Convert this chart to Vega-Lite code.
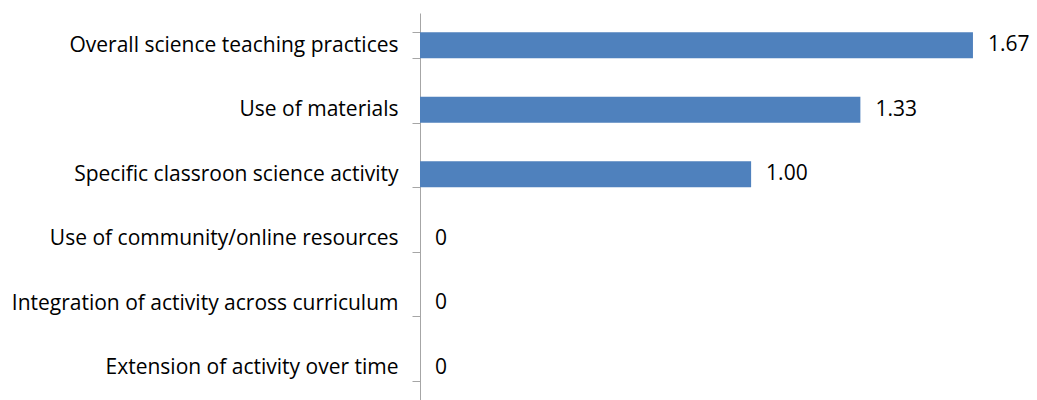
{
  "$schema": "https://vega.github.io/schema/vega-lite/v6.json",
  "autosize": "none",
  "width": 596,
  "height": 387,
  "padding": {"left": 420, "top": 13, "right": 21, "bottom": 0},
  "background": "white",
  "data": {
    "values": [
      {"category": "Overall science teaching practices", "value": 1.67, "label": "1.67"},
      {"category": "Use of materials", "value": 1.33, "label": "1.33"},
      {"category": "Specific classroon science activity", "value": 1.0, "label": "1.00"},
      {"category": "Use of community/online resources", "value": 0, "label": "0"},
      {"category": "Integration of activity across curriculum", "value": 0, "label": "0"},
      {"category": "Extension of activity over time", "value": 0, "label": "0"}
    ]
  },
  "config": {
    "view": {"stroke": null},
    "font": "Open Sans"
  },
  "encoding": {
    "y": {
      "field": "category",
      "type": "nominal",
      "sort": null,
      "scale": {"paddingInner": 0.6, "paddingOuter": 0.3},
      "axis": {
        "title": null,
        "domainColor": "#a6a6a6",
        "tickColor": "#a6a6a6",
        "tickSize": 8,
        "tickBand": "extent",
        "labelFontSize": 21,
        "labelColor": "#000000",
        "labelPadding": 14,
        "labelLimit": 500,
        "labelFont": "Open Sans"
      }
    },
    "x": {
      "field": "value",
      "type": "quantitative",
      "scale": {"domain": [0, 1.8]},
      "axis": null
    }
  },
  "layer": [
    {
      "mark": {"type": "bar", "color": "#4F81BD"}
    },
    {
      "mark": {"type": "text", "align": "left", "dx": 15, "fontSize": 21, "color": "#000000", "font": "Open Sans"},
      "encoding": {"text": {"field": "label"}}
    }
  ]
}
